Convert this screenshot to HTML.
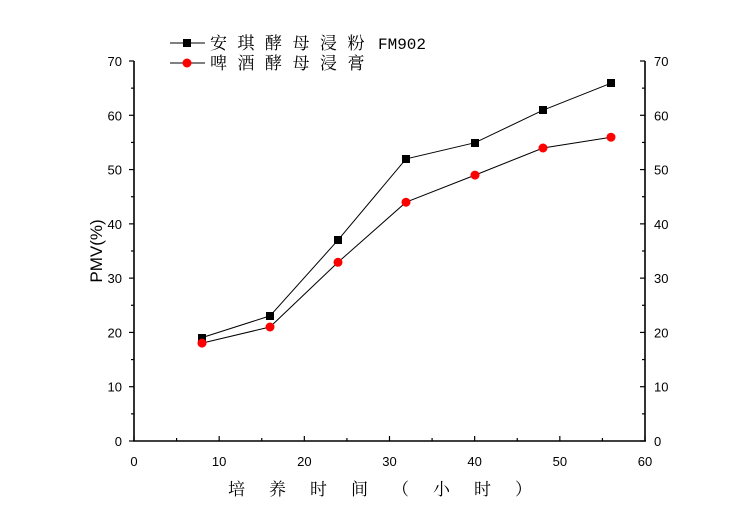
<!DOCTYPE html>
<html><head><meta charset="utf-8"><style>body{margin:0;background:#fff}svg{display:block}</style></head>
<body>
<svg width="750" height="529" viewBox="0 0 750 529" xmlns="http://www.w3.org/2000/svg" font-family="Liberation Sans, sans-serif">
<rect width="750" height="529" fill="#fff"/>
<g stroke="#000" stroke-width="1.6" fill="none">
<line x1="134" y1="61" x2="134" y2="441"/>
<line x1="645" y1="61" x2="645" y2="441"/>
<line x1="133" y1="441" x2="646" y2="441"/>
</g>
<g stroke="#000" stroke-width="1.2" id="ticks"></g>
<g font-size="13" fill="#000" id="labels"></g>
<polyline fill="none" stroke="#000" stroke-width="1" points="202,337.6 270,315.9 338,240.1 406,158.9 475,142.7 543,110.2 611,83.2"/>
<polyline fill="none" stroke="#000" stroke-width="1" points="202,343.1 270,327.0 338,262.3 406,202.2 475,175.1 543,148.0 611,137.2"/>
<g fill="#000">
<rect x="198" y="334" width="8" height="8"/><rect x="266" y="312" width="8" height="8"/><rect x="334" y="236" width="8" height="8"/><rect x="402" y="155" width="8" height="8"/><rect x="471" y="139" width="8" height="8"/><rect x="539" y="106" width="8" height="8"/><rect x="607" y="79" width="8" height="8"/>
</g>
<g fill="#f00">
<circle cx="202" cy="343.1" r="4.5"/><circle cx="270" cy="327" r="4.5"/><circle cx="338" cy="262.3" r="4.5"/><circle cx="406" cy="202.2" r="4.5"/><circle cx="475" cy="175.1" r="4.5"/><circle cx="543" cy="148" r="4.5"/><circle cx="611" cy="137.2" r="4.5"/>
</g>
<line x1="170" y1="43" x2="205" y2="43" stroke="#000"/>
<rect x="183" y="39" width="8" height="8" fill="#000"/>
<line x1="170" y1="63" x2="205" y2="63" stroke="#000"/>
<circle cx="187" cy="63" r="4.5" fill="#f00"/>
<text x="210" y="49" font-size="17" font-family="Liberation Serif, Noto Serif CJK SC, serif" letter-spacing="10.5">安琪酵母浸粉</text>
<text x="378" y="49" font-size="16" font-family="Liberation Mono, monospace">FM902</text>
<text x="210" y="69" font-size="17" font-family="Liberation Serif, Noto Serif CJK SC, serif" letter-spacing="10.5">啤酒酵母浸膏</text>
<text x="102" y="251" font-size="17" text-anchor="middle" transform="rotate(-90 102 251)">PMV(%)</text>
<text x="228" y="495" font-size="17" font-family="Liberation Serif, Noto Serif CJK SC, serif" letter-spacing="24">培养时间（小时）</text>
<script>
var t=document.getElementById('ticks'),l=document.getElementById('labels'),ns='http://www.w3.org/2000/svg';
function ln(a,b,c,d){var e=document.createElementNS(ns,'line');e.setAttribute('x1',a);e.setAttribute('y1',b);e.setAttribute('x2',c);e.setAttribute('y2',d);t.appendChild(e);}
function tx(x,y,s,an){var e=document.createElementNS(ns,'text');e.setAttribute('x',x);e.setAttribute('y',y);e.setAttribute('text-anchor',an);e.textContent=s;l.appendChild(e);}
for(var v=0;v<=60;v+=5){var x=134+v*511/60;var L=v%10?3:5;ln(x,441,x,441-L);if(v%10==0)tx(x,466,v,'middle');}
for(var v=0;v<=70;v+=5){var y=441-v*380/70;var L=v%10?3:5;ln(134,y,134-L,y);ln(645,y,645-L,y);if(v%10==0){tx(122,y+5,v,'end');tx(654,y+5,v,'start');}}
</script>
</svg>
</body></html>
